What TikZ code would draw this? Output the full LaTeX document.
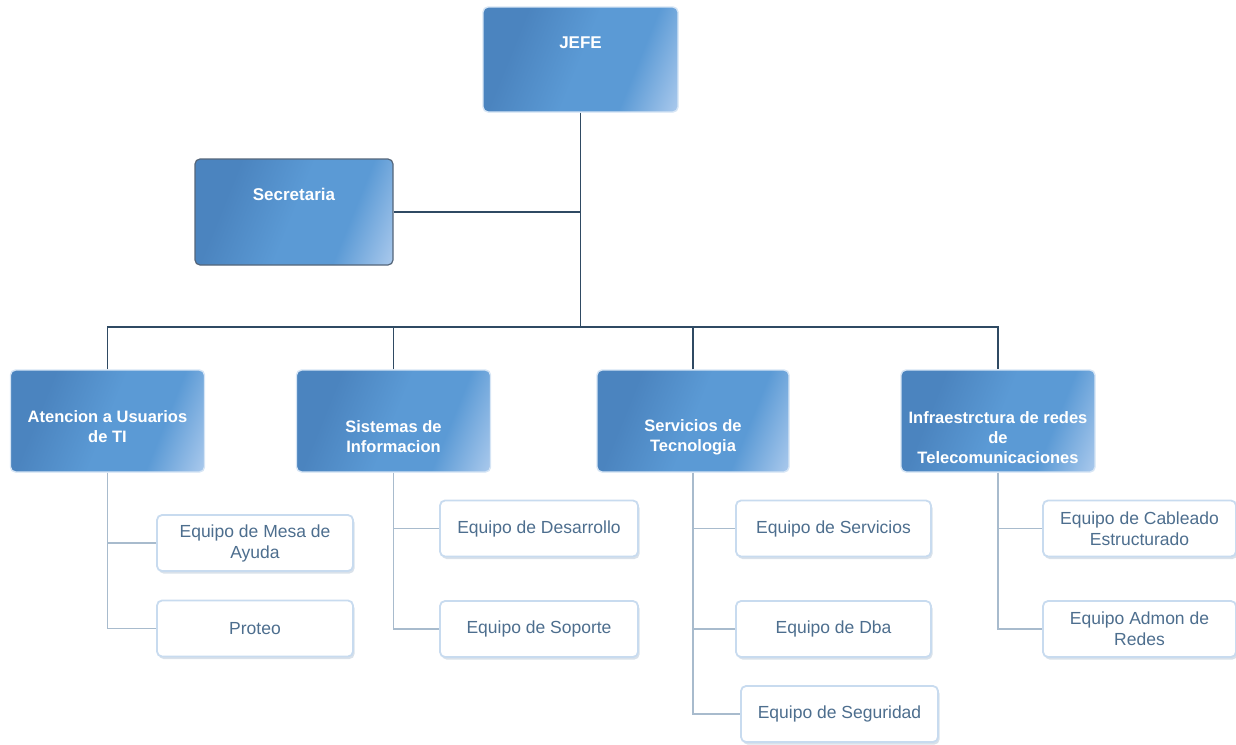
\documentclass[tikz,border=0pt]{standalone}
\usepackage{fontspec}
\setmainfont{Liberation Sans}
\usetikzlibrary{positioning, shadows}

\definecolor{boxdark}{HTML}{4B84BF}
\definecolor{boxmid}{HTML}{5B9AD5}
\definecolor{boxlight}{HTML}{B2CEEF}
\definecolor{boxedge}{HTML}{D6E5F5}
\definecolor{secedge}{HTML}{55667A}
\definecolor{mainline}{HTML}{2F4A63}
\definecolor{subline}{HTML}{A8BBCD}
\definecolor{childedge}{HTML}{C8DBEF}
\definecolor{childshadow}{HTML}{B9C9D9}
\definecolor{childtext}{HTML}{4D6E8E}

\pgfdeclarehorizontalshading{boxshade}{100bp}{color(0bp)=(boxdark); color(30bp)=(boxdark);
  color(50bp)=(boxmid); color(66bp)=(boxmid); color(84bp)=(boxlight); color(100bp)=(boxlight)}

\tikzset{
  parentbox/.style={rectangle, rounded corners=5pt, shading=boxshade, shading angle=-22,
    draw=boxedge, line width=1.4pt, inner sep=0pt,
    minimum width=194pt, minimum height=102pt},
  headtext/.style={text=white, font=\bfseries\fontsize{16.5}{20}\selectfont, align=center},
  childbox/.style={rectangle, rounded corners=5pt, fill=white, draw=childedge,
    line width=1.8pt, inner sep=2pt, text=childtext, align=center,
    font=\fontsize{17.5}{21}\selectfont,
    drop shadow={shadow xshift=1.5pt, shadow yshift=-2.5pt, fill=childshadow, opacity=0.55},
    minimum width=196pt, minimum height=56pt},
  mainconn/.style={draw=mainline, line width=1.6pt},
  subconn/.style={draw=subline, line width=1.3pt}
}

\begin{document}
\begin{tikzpicture}[x=1pt, y=-1pt]
  \useasboundingbox (0,0) rectangle (1236,744);
  % top
  \node (jefe) [parentbox, minimum width=195pt, minimum height=105pt] at (580.5,59.5) {};
  \node (jefetext) [headtext, font=\bfseries\fontsize{17}{20}\selectfont]
    at ([yshift=-36pt]jefe.north) {JEFE};
  \node (sec) [parentbox, draw=secedge, line width=1.2pt, minimum width=198pt,
    minimum height=106pt] at (294,212) {};
  \node (sectext) [headtext, font=\bfseries\fontsize{17}{20}\selectfont]
    at ([yshift=-36pt]sec.north) {Secretaria};
  % departments
  \node (atencion) [parentbox] at (107.5,421) {};
  \node (atenciontext) [headtext] at ([yshift=-6pt]atencion.center)
    {Atencion a Usuarios\\de TI};
  \node (sistemas) [parentbox] at (393.5,421) {};
  \node (sistemastext) [headtext] at ([yshift=-16pt]sistemas.center)
    {Sistemas de\\Informacion};
  \node (servicios) [parentbox, minimum width=192pt] at (693,421) {};
  \node (serviciostext) [headtext] at ([yshift=-16pt]servicios.center)
    {Servicios de\\Tecnologia};
  \node (infra) [parentbox] at (998,421) {};
  \node (infratext) [headtext] at ([yshift=-17pt]infra.center)
    {Infraestrctura de redes\\de\\Telecomunicaciones};
  % teams
  \node (mesa) [childbox] at (255,543) {Equipo de Mesa de\\Ayuda};
  \node (proteo) [childbox] at (255,628.5) {Proteo};
  \node (desarrollo) [childbox, minimum width=198pt] at (539,528.5) {Equipo de Desarrollo};
  \node (soporte) [childbox, minimum width=198pt] at (539,629) {Equipo de Soporte};
  \node (eqserv) [childbox, minimum width=195pt] at (833.5,528.5) {Equipo de Servicios};
  \node (dba) [childbox, minimum width=195pt] at (833.5,629) {Equipo de Dba};
  \node (seguridad) [childbox, minimum width=197pt] at (839.5,714) {Equipo de Seguridad};
  \node (cableado) [childbox, minimum width=193pt] at (1139.5,528.5)
    {Equipo de Cableado\\Estructurado};
  \node (admon) [childbox, minimum width=193pt] at (1139.5,629) {Equipo Admon de\\Redes};
  % Draw connectors
  \coordinate (bar) at (580.5,327);
  \draw[mainconn] (jefe.south) -- (bar);
  \draw[mainconn] (sec.east) -- (sec.east -| bar);
  \draw[mainconn] (atencion.north) |- (bar) -| (infra.north);
  \draw[mainconn] (sistemas.north) -- (sistemas.north |- bar);
  \draw[mainconn] (servicios.north) -- (servicios.north |- bar);
  \draw[subconn] (atencion.south) |- (proteo.west);
  \draw[subconn] (mesa.west) -- (mesa.west -| atencion.south);
  \draw[subconn] (sistemas.south) |- (soporte.west);
  \draw[subconn] (desarrollo.west) -- (desarrollo.west -| sistemas.south);
  \draw[subconn] (servicios.south) |- (seguridad.west);
  \draw[subconn] (eqserv.west) -- (eqserv.west -| servicios.south);
  \draw[subconn] (dba.west) -- (dba.west -| servicios.south);
  \draw[subconn] (infra.south) |- (admon.west);
  \draw[subconn] (cableado.west) -- (cableado.west -| infra.south);
\end{tikzpicture}
\end{document}
